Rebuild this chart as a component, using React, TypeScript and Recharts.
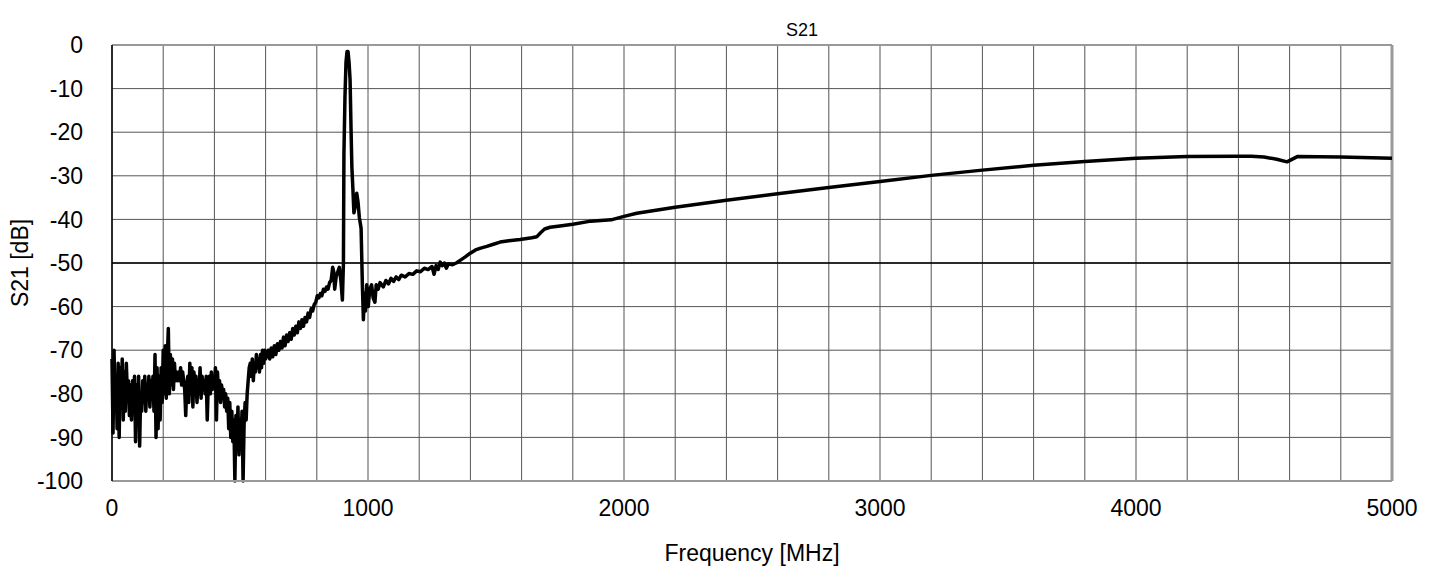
import React from 'react';
import { LineChart, Line, XAxis, YAxis, CartesianGrid, ReferenceLine } from 'recharts';

// [MHz, dB]
const lowBand: [number, number][] = [
  [0, -72], [4, -89], [8, -70], [12, -84], [16, -76], [20, -88], [24, -73], [28, -90],
  [32, -74], [36, -80], [40, -72], [44, -86], [48, -75], [52, -84], [56, -73], [60, -80],
  [64, -77], [68, -85], [72, -78], [76, -86], [80, -77], [84, -82], [88, -76], [92, -91],
  [96, -78], [100, -86], [104, -76], [108, -92], [112, -80], [116, -84], [120, -77], [124, -82],
  [128, -76], [132, -84], [136, -78], [140, -81], [144, -76], [148, -83], [152, -77], [156, -80],
  [160, -76], [164, -84], [168, -71], [172, -90], [176, -74], [180, -88], [184, -76], [188, -86],
  [192, -74], [196, -82], [200, -70], [204, -80], [208, -69], [212, -81], [216, -72], [220, -65],
  [224, -80], [228, -71], [232, -78], [236, -72], [240, -79], [244, -73], [248, -77], [252, -75],
  [256, -77], [260, -75], [264, -77], [268, -74], [272, -78], [276, -75], [280, -77], [284, -79],
  [288, -85], [292, -78], [296, -76], [300, -82], [304, -73], [308, -80], [312, -74], [316, -83],
  [320, -75], [324, -79], [328, -76], [332, -82], [336, -77], [340, -80], [344, -74], [348, -81],
  [352, -76], [356, -79], [360, -77], [364, -80], [368, -76], [372, -86], [376, -78], [380, -76],
  [384, -80], [388, -75], [392, -79], [396, -76], [400, -78], [404, -74], [408, -86], [412, -75],
  [416, -80], [420, -77], [424, -82], [428, -78], [432, -80], [436, -79], [440, -83], [444, -80],
  [448, -84], [452, -81], [456, -88], [460, -82], [464, -90], [468, -84], [472, -91], [476, -86],
  [480, -100], [484, -85], [488, -92], [492, -83], [496, -94], [500, -86], [504, -90], [508, -84],
  [512, -100], [516, -87], [520, -82], [524, -86], [528, -80], [532, -77], [536, -74], [540, -73],
  [544, -76], [548, -72], [552, -77], [556, -73], [560, -75], [564, -71], [568, -74], [572, -72],
  [576, -75], [580, -71], [584, -74], [588, -70], [592, -73], [596, -70], [600, -72],
];

const resonance: [number, number][] = [
  [610, -70], [616, -72], [622, -69.5], [628, -71.5], [634, -69], [640, -71], [646, -68.5],
  [652, -70], [658, -68], [664, -69.5], [670, -67], [676, -69], [682, -66.5], [688, -68],
  [694, -66], [700, -67.5], [706, -65], [712, -66.5], [718, -64.5], [724, -66], [730, -63.5],
  [736, -65], [742, -63], [748, -64.5], [754, -62.5], [760, -63.5], [766, -61.5], [772, -62.5],
  [778, -60.5], [784, -61], [790, -59.5], [796, -59], [802, -57.5], [808, -58], [814, -57],
  [820, -57.5], [826, -56], [832, -56.5], [838, -55.5], [844, -56], [850, -54.5], [856, -54],
  [862, -51], [866, -52], [870, -56], [876, -53], [882, -52], [888, -51], [894, -54], [900, -58.5],
  [904, -50], [906, -25], [910, -12], [914, -4], [918, -1.5], [922, -1.5], [926, -4], [930, -8],
  [934, -20], [937, -28], [941, -33], [945, -38.5], [950, -37], [956, -34], [961, -36], [966, -39.5],
  [973, -42], [978, -55], [982, -63], [986, -57], [990, -61], [995, -55], [1001, -60], [1007, -56],
  [1014, -55], [1020, -58], [1027, -59], [1032, -55], [1040, -56], [1047, -54.5],
];

const highBand: [number, number][] = [
  [1060, -55.5], [1070, -54], [1080, -54.8], [1090, -53.5], [1100, -54.2], [1110, -53.2],
  [1120, -53.8], [1130, -52.8], [1145, -53.2], [1160, -52.4], [1175, -52.6], [1190, -51.8],
  [1205, -52], [1220, -51.2], [1235, -51.5], [1250, -50.8], [1258, -52.6], [1266, -50.6],
  [1274, -51.5], [1282, -49.8], [1290, -50.6], [1298, -50], [1306, -51.2], [1314, -50.2],
  [1330, -50.4], [1345, -50], [1360, -49.4], [1380, -48.6], [1398, -47.8], [1420, -47],
  [1440, -46.6], [1464, -46.2], [1490, -45.7], [1516, -45.2], [1550, -44.9], [1594, -44.6],
  [1640, -44.2], [1659, -44], [1675, -43], [1690, -42.2], [1711, -41.8], [1750, -41.5],
  [1800, -41.1], [1870, -40.4], [1950, -40.1], [2000, -39.3], [2050, -38.6], [2200, -37.2],
  [2400, -35.6], [2600, -34.1], [2800, -32.7], [3000, -31.3], [3200, -29.9], [3400, -28.7],
  [3600, -27.6], [3800, -26.7], [4000, -26], [4200, -25.6], [4400, -25.5], [4450, -25.5],
  [4500, -25.7], [4550, -26.2], [4590, -26.8], [4630, -25.6], [4800, -25.7], [5000, -26],
];

const xTicks = [0, 1000, 2000, 3000, 4000, 5000];
const xGrid = [
  0, 200, 400, 600, 800, 1000, 1200, 1400, 1600, 1800, 2000, 2200, 2400, 2600, 2800, 3000,
  3200, 3400, 3600, 3800, 4000, 4200, 4400, 4600, 4800, 5000,
];
const yTicks = [0, -10, -20, -30, -40, -50, -60, -70, -80, -90, -100];

const data = [...lowBand, ...resonance, ...highBand].map(([f, s]) => ({ f, s }));

const FONT = "'Liberation Sans', Arial, sans-serif";

export default function App() {
  return (
    <div style={{ position: 'absolute', left: 0, top: 0, width: 1434, height: 572, background: '#fff' }}>
      <LineChart width={1434} height={572} data={data} margin={{ top: 45, right: 42, bottom: 0, left: 0 }}>
        <CartesianGrid stroke="#555" strokeWidth={1} verticalValues={xGrid} />
        <XAxis
          type="number"
          dataKey="f"
          domain={[0, 5000]}
          ticks={xTicks}
          height={91}
          tickSize={0}
          tickMargin={19}
          stroke="#999"
          strokeWidth={2}
          tick={{ fill: '#000', fontSize: 23, fontFamily: FONT }}
          label={{
            content: () => (
              <text x={752} y={561} textAnchor="middle" fontSize={23} fontFamily={FONT} fill="#000">
                Frequency [MHz]
              </text>
            ),
          }}
        />
        <YAxis
          type="number"
          domain={[-100, 0]}
          ticks={yTicks}
          width={112}
          tickSize={0}
          tickMargin={29}
          stroke="#000"
          strokeWidth={1.5}
          tick={{ fill: '#000', fontSize: 23, fontFamily: FONT }}
          label={{
            content: () => (
              <g>
                <text x={802} y={36} textAnchor="middle" fontSize={18} fontFamily={FONT} fill="#000">
                  S21
                </text>
                <text
                  x={28}
                  y={263}
                  textAnchor="middle"
                  fontSize={23}
                  fontFamily={FONT}
                  fill="#000"
                  transform="rotate(-90 28 263)"
                >
                  S21 [dB]
                </text>
              </g>
            ),
          }}
        />
        <ReferenceLine y={-50} stroke="#000" strokeWidth={1.5} />
        <ReferenceLine y={0} stroke="#999" strokeWidth={2} />
        <ReferenceLine x={5000} stroke="#999" strokeWidth={3} />
        <Line
          type="linear"
          dataKey="s"
          stroke="#000"
          strokeWidth={3.5}
          dot={false}
          isAnimationActive={false}
          strokeLinejoin="round"
        />
      </LineChart>
    </div>
  );
}
